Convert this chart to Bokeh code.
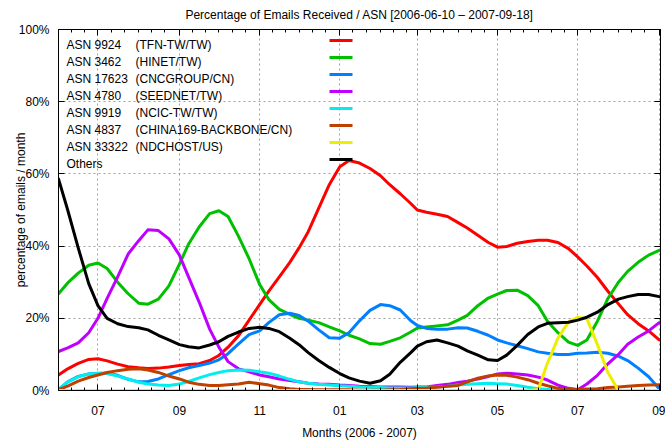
import pandas as pd
from bokeh.plotting import figure
from bokeh.models import (FixedTicker, DatetimeTickFormatter, PrintfTickFormatter, LinearAxis,
                          DatetimeAxis, Range1d, Label, Arrow, CustomJSTickFormatter)
from bokeh.embed import file_html
from bokeh.resources import INLINE

# ---------------- data (percent of emails per month) ----------------
dates = ["2006-06-01", "2006-06-08", "2006-06-16", "2006-06-24",
         "2006-07-01", "2006-07-08", "2006-07-16", "2006-07-24",
         "2006-08-01", "2006-08-08", "2006-08-16", "2006-08-24",
         "2006-09-01", "2006-09-08", "2006-09-16", "2006-09-24",
         "2006-10-01", "2006-10-08", "2006-10-16", "2006-10-24",
         "2006-11-01", "2006-11-08", "2006-11-16", "2006-11-24",
         "2006-12-01", "2006-12-08", "2006-12-16", "2006-12-24",
         "2007-01-01", "2007-01-08", "2007-01-16", "2007-01-24",
         "2007-02-01", "2007-02-08", "2007-02-16", "2007-02-24",
         "2007-03-01", "2007-03-08", "2007-03-16", "2007-03-24",
         "2007-04-01", "2007-04-08", "2007-04-16", "2007-04-24",
         "2007-05-01", "2007-05-08", "2007-05-16", "2007-05-24",
         "2007-06-01", "2007-06-08", "2007-06-16", "2007-06-24",
         "2007-07-01", "2007-07-08", "2007-07-16", "2007-07-24",
         "2007-08-01", "2007-08-08", "2007-08-16", "2007-08-24",
         "2007-09-01"]

tfn = [4.3, 6.0, 7.5, 8.6, 8.8, 8.2, 7.3, 6.6, 6.3, 6.1, 6.2, 6.5, 6.9, 7.2, 7.4, 8.3,
       9.7, 12.0, 15.2, 19.5, 23.8, 27.5, 31.5, 35.5, 39.5, 44.0, 50.5, 57.0, 62.0, 63.7, 63.0, 61.5,
       59.5, 57.0, 54.5, 51.8, 50.0, 49.4, 48.8, 48.2, 46.5, 45.0, 43.0, 41.0, 39.7, 39.9, 40.8, 41.3,
       41.6, 41.6, 41.0, 39.3, 37.0, 34.5, 31.3, 27.5, 24.0, 21.0, 18.5, 16.5, 14.0]
hinet = [26.8, 29.8, 32.5, 34.7, 35.3, 33.8, 30.0, 26.8, 24.2, 23.9, 25.3, 29.0, 35.0, 40.6, 45.3, 49.0,
         49.8, 48.2, 42.7, 36.5, 29.4, 25.2, 22.5, 21.1, 20.0, 19.5, 18.8, 17.6, 16.5, 15.3, 14.3, 13.0,
         12.8, 13.6, 14.6, 16.2, 17.3, 17.6, 17.9, 18.2, 19.5, 20.8, 23.5, 25.6, 26.7, 27.7, 27.8, 26.3,
         23.5, 19.2, 16.0, 13.4, 12.5, 14.0, 19.2, 25.5, 30.0, 33.0, 35.5, 37.5, 38.8]
cncgroup = [0.3, 2.4, 3.9, 4.6, 4.8, 4.8, 4.2, 3.1, 2.4, 2.5, 3.2, 4.4, 5.5, 6.3, 6.9, 7.6,
            8.5, 10.2, 12.9, 15.5, 16.5, 18.8, 21.0, 21.4, 20.8, 19.2, 16.8, 14.6, 14.5, 16.0, 19.3, 22.2,
            23.8, 23.5, 22.3, 19.3, 18.0, 17.2, 17.0, 17.0, 17.4, 17.3, 16.4, 15.3, 14.0, 13.2, 12.4, 11.6,
            10.7, 10.3, 10.0, 10.0, 10.3, 10.4, 10.6, 10.3, 9.5, 8.3, 6.2, 3.8, 0.5]
seednet = [10.8, 11.8, 13.2, 16.0, 20.0, 25.5, 31.5, 37.8, 41.5, 44.5, 44.3, 42.0, 37.5, 31.4, 24.5, 17.0,
           12.0, 8.0, 6.0, 5.2, 4.3, 3.8, 3.2, 2.8, 2.4, 2.0, 1.8, 1.7, 1.5, 1.4, 1.2, 1.1,
           1.0, 1.0, 1.0, 0.9, 1.0, 1.0, 1.4, 1.7, 2.2, 2.6, 3.2, 3.9, 4.6, 4.8, 4.6, 4.3,
           3.7, 2.9, 1.5, 0.6, 0.2, 1.8, 4.2, 7.4, 10.0, 12.8, 14.8, 16.5, 18.8]
ncic = [0.2, 2.4, 3.8, 4.6, 4.7, 4.7, 4.0, 3.2, 2.3, 1.8, 1.5, 1.4, 1.8, 2.5, 3.5, 4.4,
        5.0, 5.5, 5.7, 5.6, 5.2, 4.8, 4.0, 3.1, 2.4, 2.0, 1.7, 1.5, 1.3, 1.2, 1.0, 0.9,
        0.8, 0.7, 0.7, 0.7, 0.8, 0.9, 1.0, 1.2, 1.5, 1.7, 1.9, 2.0, 1.9, 1.8, 1.4, 0.9,
        0.5, 0.3, 0.1, 0.0, 0.0, 0.0, 0.0, 0.0, 0.0, 0.0, 0.0, 0.0, 0.0]
china169 = [0.2, 1.2, 2.6, 3.6, 4.3, 5.0, 5.5, 5.9, 6.0, 5.7, 5.0, 4.0, 3.2, 2.3, 1.7, 1.4,
            1.4, 1.6, 1.8, 2.3, 1.9, 1.5, 0.8, 0.5, 0.3, 0.3, 0.2, 0.2, 0.2, 0.2, 0.1, 0.1,
            0.1, 0.2, 0.3, 0.5, 0.6, 0.7, 0.9, 1.2, 1.4, 2.4, 3.4, 4.0, 4.3, 4.2, 3.7, 3.0,
            2.0, 1.3, 0.6, 0.4, 0.3, 0.4, 0.5, 0.8, 1.0, 1.2, 1.4, 1.5, 1.6]
ndchost = [0.0, 0.0, 0.0, 0.0, 0.0, 0.0, 0.0, 0.0, 0.0, 0.0, 0.0, 0.0, 0.0, 0.0, 0.0, 0.0,
           0.0, 0.0, 0.0, 0.0, 0.0, 0.0, 0.0, 0.0, 0.0, 0.0, 0.0, 0.0, 0.0, 0.0, 0.0, 0.0,
           0.0, 0.0, 0.0, 0.0, 0.0, 0.0, 0.0, 0.0, 0.0, 0.0, 0.0, 0.0, 0.0, 0.0, 0.0, 0.0,
           0.3, 7.6, 14.5, 19.0, 20.3, 19.9, 12.7, 5.0, 0.0, 0.0, 0.0, 0.0, 0.0]
others = [58.6, 50.0, 39.5, 29.6, 23.5, 20.0, 18.5, 17.7, 17.4, 16.8, 15.3, 14.0, 12.7, 12.1, 11.8, 12.6,
          13.5, 15.0, 16.2, 17.2, 17.5, 17.2, 16.3, 14.5, 12.7, 10.5, 8.3, 6.4, 4.7, 3.5, 2.6, 2.0,
          2.7, 4.5, 7.8, 10.5, 12.3, 13.5, 14.0, 13.2, 12.3, 11.0, 9.8, 8.5, 8.3, 9.8, 12.5, 15.5,
          17.6, 18.6, 18.8, 18.9, 19.5, 20.3, 21.7, 23.8, 25.3, 26.0, 26.6, 26.6, 26.0]

asn_labels = ["ASN 9924", "ASN 3462", "ASN 17623", "ASN 4780", "ASN 9919", "ASN 4837", "ASN 33322", "Others"]
asn_names = ["(TFN-TW/TW)", "(HINET/TW)", "(CNCGROUP/CN)", "(SEEDNET/TW)", "(NCIC-TW/TW)",
             "(CHINA169-BACKBONE/CN)", "(NDCHOST/US)", ""]
series = [tfn, hinet, cncgroup, seednet, ncic, china169, ndchost, others]
colors = ["#ff0000", "#00c000", "#0080ff", "#c000ff", "#00eeee", "#c04000", "#eeee00", "#000000"]

major_tick_dates = ["2006-07-01", "2006-09-01", "2006-11-01", "2007-01-01",
                    "2007-03-01", "2007-05-01", "2007-07-01", "2007-09-01"]
y_ticks = [0, 20, 40, 60, 80, 100]
title_text = "Percentage of Emails Received / ASN [2006-06-10 \u2013 2007-09-18]"

FONT = "Liberation Sans"

# ---------------- figure ----------------
x = pd.to_datetime(dates)


def ms(ts):
    return pd.Timestamp(ts).value / 1e6


major_ms = [ms(d) for d in major_tick_dates]
minor_ms = []
for m in pd.date_range("2006-06-01", "2007-09-01", freq="MS"):
    for d in (1, 11, 21):
        t = m + pd.Timedelta(days=d - 1)
        if t <= pd.Timestamp("2007-09-02"):
            minor_ms.append(ms(t))

W, H = 665, 442
BT, BB, BL, BR = 29, 52, 58, 5
HF = H - BT - BB

p = figure(width=W, height=H, x_axis_type="datetime", output_backend="svg", toolbar_location=None,
           x_range=Range1d(ms("2006-06-01"), ms("2007-09-02")), y_range=Range1d(0, 100),
           min_border_left=BL, min_border_right=BR, min_border_top=BT, min_border_bottom=BB,
           title=title_text)

p.title.align = "center"
p.title.vertical_align = "top"
p.title.text_font = FONT
p.title.text_font_size = "12px"
p.title.text_font_style = "normal"
p.title.text_color = "black"
p.title.standoff = 12
p.title.offset = 0

p.outline_line_color = "black"
p.outline_line_width = 1
p.background_fill_color = "white"
p.border_fill_color = "white"

xticker = FixedTicker(ticks=major_ms, minor_ticks=minor_ms)
yticker = FixedTicker(ticks=y_ticks)

xa = p.xaxis[0]
xa.ticker = xticker
xa.formatter = DatetimeTickFormatter(days="%m", months="%m", years="%m", hours="%m", hourmin="%m")
xa.axis_label = "Months (2006 - 2007)"

ya = p.yaxis[0]
ya.ticker = yticker
ya.formatter = PrintfTickFormatter(format="%d%%")
ya.axis_label = "percentage of emails / month"
ya.minor_tick_line_color = None

for ax in (xa, ya):
    ax.axis_line_color = "black"
    ax.major_tick_in = 6
    ax.major_tick_out = 0
    ax.major_tick_line_color = "black"
    ax.major_label_text_font = FONT
    ax.major_label_text_font_size = "12px"
    ax.major_label_text_color = "black"
    ax.axis_label_text_font = FONT
    ax.axis_label_text_font_size = "12px"
    ax.axis_label_text_font_style = "normal"
    ax.axis_label_text_color = "black"

xa.minor_tick_in = 3
xa.minor_tick_out = 0
xa.minor_tick_line_color = "black"
xa.major_label_standoff = 15
xa.axis_label_standoff = 8
ya.major_label_standoff = 9
ya.axis_label_standoff = -12

empty = CustomJSTickFormatter(code="return ''")
top = DatetimeAxis(ticker=xticker, formatter=empty, major_tick_in=6, major_tick_out=0,
                   minor_tick_in=3, minor_tick_out=0, major_label_standoff=0,
                   axis_line_color="black", major_label_text_font_size="1px")
right = LinearAxis(ticker=yticker, formatter=empty, major_tick_in=6, major_tick_out=0,
                   minor_tick_line_color=None, major_label_standoff=0,
                   axis_line_color="black", major_label_text_font_size="1px")
p.add_layout(top, "above")
p.add_layout(right, "right")

for g in (p.xgrid[0], p.ygrid[0]):
    g.grid_line_color = "#a0a0a0"
    g.grid_line_dash = "2 3"
    g.grid_line_width = 1
p.xgrid[0].ticker = xticker
p.ygrid[0].ticker = yticker

for vals, col in zip(series, colors):
    p.line(x, vals, line_color=col, line_width=3, line_join="round", line_cap="round")

# legend (gnuplot style: text left, sample on the right)
for i, (lab, nm, col) in enumerate(zip(asn_labels, asn_names, colors)):
    yt = HF - 15 - 17 * i
    p.add_layout(Label(x=8, y=yt, x_units="screen", y_units="screen", text=lab,
                       text_baseline="middle", text_font=FONT, text_font_size="12px",
                       text_color="black"))
    if nm:
        p.add_layout(Label(x=77, y=yt, x_units="screen", y_units="screen", text=nm,
                           text_baseline="middle", text_font=FONT, text_font_size="12px",
                           text_color="black"))
    p.add_layout(Arrow(x_start=271, y_start=yt + 4, x_end=294, y_end=yt + 4,
                       start_units="screen", end_units="screen", end=None,
                       line_color=col, line_width=3))

open("out.html", "w").write(file_html(p, INLINE))
